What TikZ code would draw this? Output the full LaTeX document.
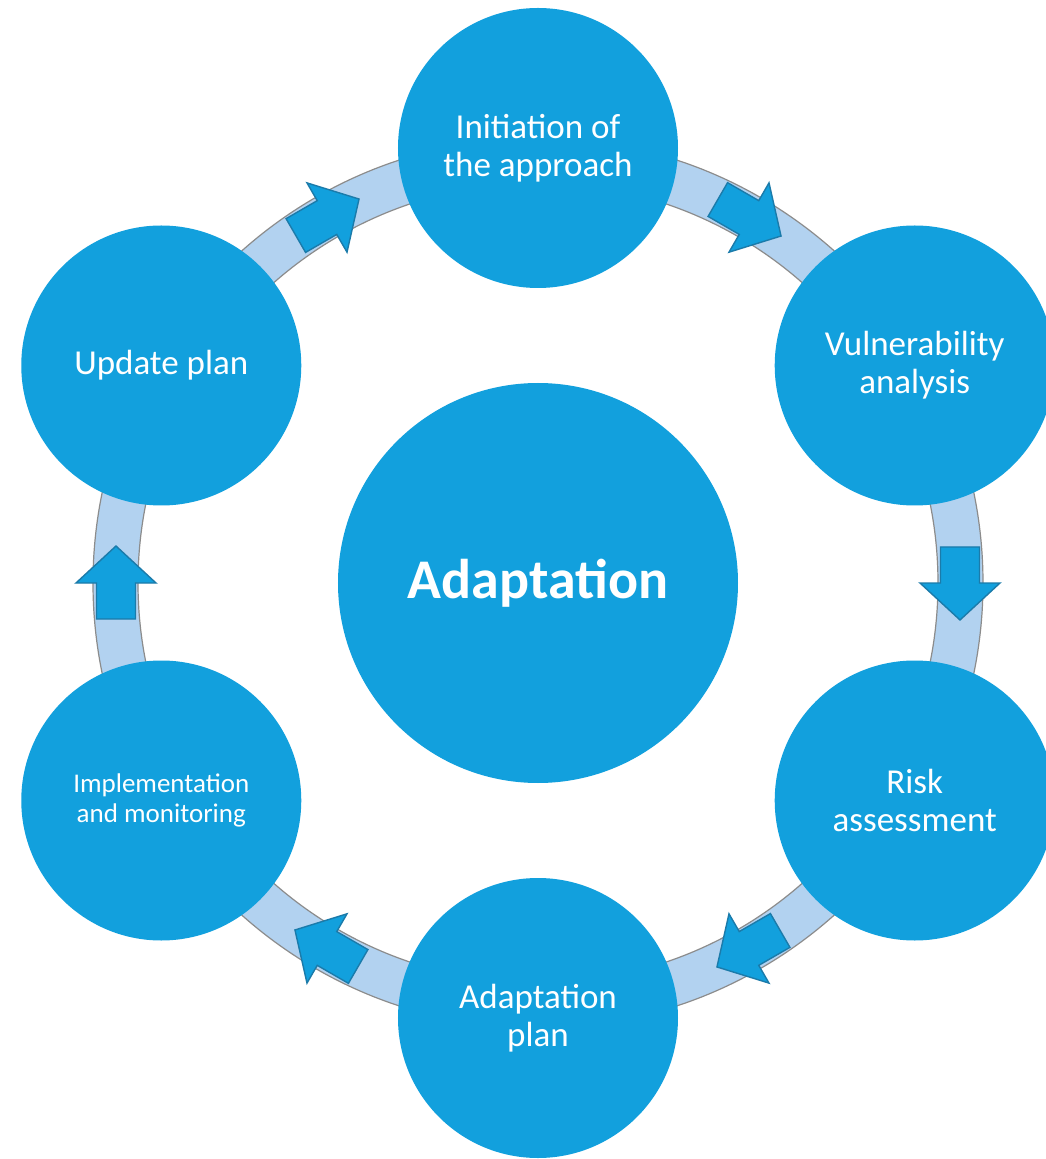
\documentclass[tikz,border=0pt]{standalone}
\usepackage{fontspec}
\setmainfont{Carlito}
\definecolor{circ}{HTML}{12A0DD}
\definecolor{arrfill}{HTML}{12A0DD}
\definecolor{arrline}{HTML}{1B7BAA}
\definecolor{ringfill}{HTML}{B2D2F0}
\definecolor{ringline}{HTML}{8C8C8C}
\tikzset{
  bubble/.style={circle, fill=circ, draw=none, minimum size=280pt, inner sep=0pt, text=white, align=center, font=\fontsize{35}{38}\selectfont},
  hub/.style={circle, fill=circ, draw=none, minimum size=400pt, inner sep=0pt, text=white, align=center, font=\fontsize{56}{60}\selectfont\bfseries},
  ringband/.style={fill=ringfill, draw=ringline, line width=1.2pt, even odd rule},
  blockarrow/.style={fill=arrfill, draw=arrline, line width=1.4pt, line join=miter}
}
\newcommand{\blockarr}[2]{%
  \begin{scope}[shift={(#1:422pt)}, rotate=#1-90]
    \draw[blockarrow] (-36pt,-19.5pt) -- (0pt,-19.5pt) -- (0pt,-40pt) -- (37pt,0pt) -- (0pt,40pt) -- (0pt,19.5pt) -- (-36pt,19.5pt) -- cycle;
    \coordinate (#2) at (0,0);
  \end{scope}}
\begin{document}
\begin{tikzpicture}
\useasboundingbox (-538pt,-576pt) rectangle (508pt,583pt);
\clip (-538pt,-576pt) rectangle (508pt,583pt);
\fill[white] (-538pt,-576pt) rectangle (508pt,583pt);
% ring
\path[ringband] (0,0) circle (445pt) (0,0) circle (400pt);
% arrows
\blockarr{60}{a1}
\blockarr{0}{a2}
\blockarr{-60}{a3}
\blockarr{-120}{a4}
\blockarr{180}{a5}
\blockarr{120}{a6}
% circles
\node[hub] (c) at (0,0) {Adaptation};
\node[bubble] (n1) at (90:435pt) {Initiation of\\the approach};
\node[bubble] (n2) at (30:435pt) {Vulnerability\\analysis};
\node[bubble] (n3) at (-30:435pt) {Risk\\assessment};
\node[bubble] (n4) at (-90:435pt) {Adaptation\\plan};
\node[bubble, font=\fontsize{27}{30}\selectfont] (n5) at (-150:435pt) {Implementation\\and monitoring};
\node[bubble] (n6) at (150:435pt) {Update plan};
\end{tikzpicture}
\end{document}
